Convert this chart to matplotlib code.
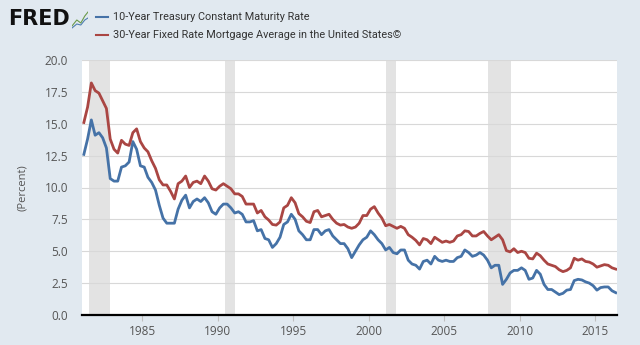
import numpy as np
import pandas as pd
import matplotlib
matplotlib.use('Agg')
import matplotlib.pyplot as plt
import matplotlib.dates as mdates
from matplotlib.ticker import StrMethodFormatter
from matplotlib.lines import Line2D

# quarterly values, 1981Q1 .. 2016Q2
treasury = [
    12.6, 13.8, 15.3, 14.1,   # 1981
    14.3, 13.9, 13.1, 10.7,   # 1982
    10.5, 10.5, 11.6, 11.7,   # 1983
    12.0, 13.6, 13.0, 11.7,   # 1984
    11.6, 10.8, 10.4, 9.8,    # 1985
    8.6, 7.6, 7.2, 7.2,       # 1986
    7.2, 8.3, 9.0, 9.4,       # 1987
    8.4, 8.9, 9.1, 8.9,       # 1988
    9.2, 8.8, 8.1, 7.9,       # 1989
    8.4, 8.7, 8.7, 8.4,       # 1990
    8.0, 8.1, 7.9, 7.3,       # 1991
    7.3, 7.4, 6.6, 6.7,       # 1992
    6.0, 5.9, 5.3, 5.6,       # 1993
    6.1, 7.1, 7.3, 7.9,       # 1994
    7.5, 6.6, 6.3, 5.9,       # 1995
    5.9, 6.7, 6.7, 6.3,       # 1996
    6.6, 6.7, 6.2, 5.9,       # 1997
    5.6, 5.6, 5.2, 4.5,       # 1998
    5.0, 5.5, 5.9, 6.1,       # 1999
    6.6, 6.3, 5.9, 5.6,       # 2000
    5.1, 5.3, 4.9, 4.8,       # 2001
    5.1, 5.1, 4.3, 4.0,       # 2002
    3.9, 3.6, 4.2, 4.3,       # 2003
    4.0, 4.6, 4.3, 4.2,       # 2004
    4.3, 4.2, 4.2, 4.5,       # 2005
    4.6, 5.1, 4.9, 4.6,       # 2006
    4.7, 4.9, 4.7, 4.3,       # 2007
    3.7, 3.9, 3.9, 2.4,       # 2008
    2.8, 3.3, 3.5, 3.5,       # 2009
    3.7, 3.5, 2.8, 2.9,       # 2010
    3.5, 3.2, 2.4, 2.0,       # 2011
    2.0, 1.8, 1.6, 1.7,       # 2012
    1.95, 2.0, 2.7, 2.8,      # 2013
    2.75, 2.6, 2.5, 2.3,      # 2014
    1.95, 2.15, 2.2, 2.2,     # 2015
    1.9, 1.75,                # 2016
]

mortgage = [
    15.1, 16.3, 18.2, 17.6,   # 1981
    17.4, 16.8, 16.2, 13.8,   # 1982
    13.0, 12.7, 13.7, 13.4,   # 1983
    13.3, 14.3, 14.6, 13.6,   # 1984
    13.1, 12.8, 12.1, 11.5,   # 1985
    10.6, 10.2, 10.2, 9.7,    # 1986
    9.1, 10.3, 10.5, 10.9,    # 1987
    10.0, 10.4, 10.5, 10.3,   # 1988
    10.9, 10.5, 9.9, 9.8,     # 1989
    10.1, 10.3, 10.1, 9.9,    # 1990
    9.5, 9.5, 9.3, 8.7,       # 1991
    8.7, 8.7, 8.0, 8.2,       # 1992
    7.7, 7.45, 7.1, 7.05,     # 1993
    7.3, 8.4, 8.6, 9.2,       # 1994
    8.8, 7.95, 7.7, 7.35,     # 1995
    7.25, 8.1, 8.2, 7.7,      # 1996
    7.8, 7.9, 7.5, 7.2,       # 1997
    7.05, 7.1, 6.9, 6.8,      # 1998
    6.9, 7.2, 7.8, 7.8,       # 1999
    8.3, 8.5, 8.0, 7.6,       # 2000
    7.0, 7.1, 6.95, 6.8,      # 2001
    6.95, 6.8, 6.3, 6.1,      # 2002
    5.85, 5.5, 6.0, 5.9,      # 2003
    5.6, 6.1, 5.9, 5.7,       # 2004
    5.8, 5.7, 5.8, 6.2,       # 2005
    6.3, 6.6, 6.55, 6.2,      # 2006
    6.2, 6.4, 6.55, 6.2,      # 2007
    5.9, 6.1, 6.3, 5.9,       # 2008
    5.05, 4.95, 5.2, 4.9,     # 2009
    5.0, 4.9, 4.45, 4.4,      # 2010
    4.85, 4.65, 4.3, 4.0,     # 2011
    3.9, 3.8, 3.55, 3.4,      # 2012
    3.5, 3.7, 4.45, 4.3,      # 2013
    4.4, 4.2, 4.15, 4.0,      # 2014
    3.75, 3.85, 3.95, 3.9,    # 2015
    3.7, 3.6,                 # 2016
]

recessions = [('1981-07-01', '1982-11-01'), ('1990-07-01', '1991-03-01'),
              ('2001-03-01', '2001-11-01'), ('2007-12-01', '2009-06-01')]

labels = ['10-Year Treasury Constant Maturity Rate',
          '30-Year Fixed Rate Mortgage Average in the United States\u00a9']

dates = pd.period_range('1981Q1', periods=len(treasury), freq='Q').to_timestamp(how='start') + pd.Timedelta(days=45)

bg = '#e1e9f0'
blue = '#4572a7'
red = '#aa4643'

plt.rcParams['font.family'] = ['Open Sans', 'DejaVu Sans']

fig = plt.figure(figsize=(6.4, 3.45), dpi=100, facecolor=bg)
ax = fig.add_axes([82 / 640, 30 / 345, 535 / 640, 255 / 345])
ax.set_facecolor('white')

for start, end in recessions:
    ax.axvspan(pd.Timestamp(start), pd.Timestamp(end), color='#e3e3e3', lw=0, zorder=0)

ax.plot(dates, treasury, color=blue, lw=2.0, zorder=3)
ax.plot(dates, mortgage, color=red, lw=2.0, zorder=3)

ax.set_xlim(pd.Timestamp('1981-01-01'), pd.Timestamp('2016-06-15'))
ax.set_ylim(0, 20)
ax.set_yticks(np.arange(0, 20.1, 2.5))
ax.yaxis.set_major_formatter(StrMethodFormatter('{x:.1f}'))
ax.xaxis.set_major_locator(mdates.YearLocator(5))
ax.xaxis.set_major_formatter(mdates.DateFormatter('%Y'))
ax.grid(axis='y', color='#d8d8d8', lw=0.8, zorder=1)
ax.set_axisbelow(True)

for side in ['top', 'right', 'left']:
    ax.spines[side].set_visible(False)
ax.spines['bottom'].set_color('black')
ax.spines['bottom'].set_linewidth(1.6)
ax.tick_params(axis='y', length=0, labelsize=8.5, labelcolor='#555555', pad=10)
ax.tick_params(axis='x', length=4, color='#c0c0c0', labelsize=8.5, labelcolor='#555555')
ax.set_ylabel('(Percent)', fontsize=8, color='#555555', labelpad=12)

# header
fig.text(8 / 640, 1 - 19 / 345, 'FRED', fontsize=15, fontweight='bold', color='#111111',
         va='center', ha='left', family='DejaVu Sans')
icon = fig.add_axes([72 / 640, 1 - 30 / 345, 16 / 640, 20 / 345])
icon.set_facecolor('#d9e0d4')
icon.plot([0, 0.3, 0.55, 0.8, 1], [0.2, 0.5, 0.35, 0.7, 0.9], color='#6a9a4a', lw=0.8)
icon.plot([0, 0.3, 0.55, 0.8, 1], [0.1, 0.3, 0.25, 0.5, 0.6], color='#4f7fb0', lw=0.8)
icon.set_xlim(0, 1)
icon.set_ylim(0, 1)
icon.axis('off')

for i, (lab, col) in enumerate(zip(labels, [blue, red])):
    y = 1 - (17 + 18 * i) / 345
    fig.add_artist(Line2D([96 / 640, 108 / 640], [y, y], color=col, lw=1.5))
    fig.text(113 / 640, y, lab, fontsize=7.8, color='#333333', va='center', ha='left',
             family=['Roboto', 'DejaVu Sans'])

fig.savefig('out.png', dpi=100, facecolor=bg)
